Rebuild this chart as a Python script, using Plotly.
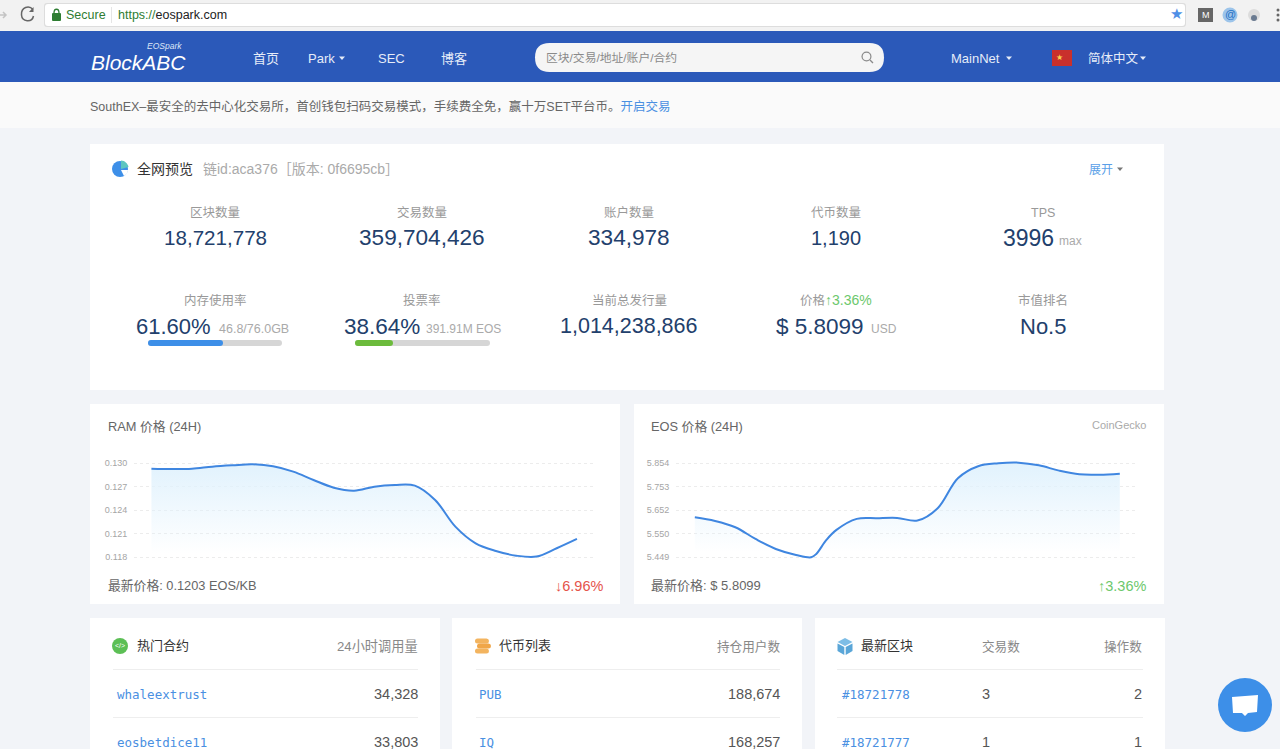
# -*- coding: utf-8 -*-
# eospark dashboard screenshot, two price charts plus the page around them
import plotly.graph_objects as go

W = 1280
H = 753

#chart data
ram_x = [0, 1, 2, 3, 4, 5, 6, 7, 8, 9, 10, 11, 12, 13, 14, 15, 16, 17, 18, 19, 20, 21]
ram_price = [0.12932, 0.12928, 0.12932, 0.12957, 0.12974, 0.12987, 0.12962, 0.12894,
             0.12787, 0.12689, 0.12651, 0.12702, 0.12723, 0.12715, 0.12532, 0.12192,
             0.11979, 0.11881, 0.11821, 0.11809, 0.11915, 0.12034]
ram_ticks = [0.130, 0.127, 0.124, 0.121, 0.118]
ram_ticktext = ["0.130", "0.127", "0.124", "0.121", "0.118"]

eos_x = [0, 1, 2, 3, 4, 5, 5.75, 6, 6.5, 7, 8, 9, 10, 11, 12, 13, 14, 15, 16, 17, 18, 19, 20, 21]
eos_price = [5.6214, 5.6056, 5.5783, 5.5280, 5.4849, 5.4591, 5.4490, 5.4634, 5.5237, 5.5670,
             5.6144, 5.6173, 5.6187, 5.6072, 5.6603, 5.7896, 5.8413, 5.8540, 5.8569,
             5.8454, 5.8224, 5.8066, 5.8052, 5.8095]
eos_ticks = [5.854, 5.753, 5.652, 5.550, 5.449]
eos_ticktext = ["5.854", "5.753", "5.652", "5.550", "5.449"]

#overview numbers: center x, label, value
col_x = [215, 422, 629, 836, 1043]
row1_labels = ["区块数量", "交易数量", "账户数量", "代币数量", "TPS"]
row1_values = ["18,721,778", "359,704,426", "334,978", "1,190", "3996"]
row1_sizes = [20.6, 22.6, 22.6, 20, 23]
row2_labels = ["内存使用率", "投票率", "当前总发行量", "价格", "市值排名"]
row2_values = ["61.60%", "38.64%", "1,014,238,866", "$ 5.8099", "No.5"]

contract_names = ["whaleextrust", "eosbetdice11"]
contract_calls = ["34,328", "33,803"]
token_names = ["PUB", "IQ"]
token_holders = ["188,674", "168,257"]
block_ids = ["#18721778", "#18721777"]
block_tx = ["3", "1"]
block_ops = ["2", "1"]
row_y = [694, 742]

SANS = "Liberation Sans, Noto Sans CJK SC"
MONO = "DejaVu Sans Mono"
NAVY = "#22406c"
LINK = "#4a90e2"
LINE = "#3f86e0"

shapes = []
annotations = []


def fx(x):
    return x / W


def fy(y):
    return 1 - y / H


def rect(x0, y0, x1, y1, color, line=None):
    shapes.append(dict(type="rect", xref="paper", yref="paper", x0=fx(x0), x1=fx(x1),
                       y0=fy(y0), y1=fy(y1), fillcolor=color, layer="below",
                       line=dict(color=line or color, width=1 if line else 0)))


def path(points, color, line=None, width=1):
    # points is a list of (command, x, y, ...) in page pixels
    d = ""
    for p in points:
        d += p[0]
        nums = p[1:]
        d += ",".join(f"{fx(nums[i]):.5f},{fy(nums[i + 1]):.5f}" for i in range(0, len(nums), 2))
        d += " "
    shapes.append(dict(type="path", xref="paper", yref="paper", path=d.strip(), fillcolor=color,
                       layer="below", line=dict(color=line or color, width=width if line else 0)))


def pill(x0, y0, x1, y1, r, color):
    path([("M", x0 + r, y0), ("L", x1 - r, y0), ("Q", x1, y0, x1, y0 + r), ("L", x1, y1 - r),
          ("Q", x1, y1, x1 - r, y1), ("L", x0 + r, y1), ("Q", x0, y1, x0, y1 - r),
          ("L", x0, y0 + r), ("Q", x0, y0, x0 + r, y0), ("Z",)], color)


def circle(cx, cy, r, color):
    shapes.append(dict(type="circle", xref="paper", yref="paper", x0=fx(cx - r), x1=fx(cx + r),
                       y0=fy(cy - r), y1=fy(cy + r), fillcolor=color, layer="below",
                       line=dict(width=0)))


def caret(cx, cy, color, s=3):
    path([("M", cx - s, cy - 1.5), ("L", cx + s, cy - 1.5), ("L", cx, cy + 2), ("Z",)], color)


def txt(x, y, s, size=13, color="#666666", anchor="left", family=SANS):
    # plotly keeps 1px around annotation text
    if anchor == "left":
        x -= 1
    elif anchor == "right":
        x += 1
    annotations.append(dict(xref="paper", yref="paper", x=fx(x), y=fy(y), text=s, showarrow=False,
                            xanchor=anchor, yanchor="middle", borderpad=0,
                            font=dict(size=size, color=color, family=family)))


#page blocks
rect(0, 0, W, 31, "#f2f2f2")
pill(44, 3, 1186, 27, 3, "#dddddd")
pill(45, 4, 1185, 26, 3, "#ffffff")
rect(0, 31, W, 82, "#2b59b9")
rect(0, 82, W, 128, "#fafafa")
rect(0, 128, W, 749, "#f2f4f8")
rect(0, 749, W, H, "#ffffff")
rect(90, 144, 1164, 390, "#ffffff")
rect(90, 404, 620, 604, "#ffffff")
rect(634, 404, 1164, 604, "#ffffff")
rect(90, 618, 440, 749, "#ffffff")
rect(452, 618, 802, 749, "#ffffff")
rect(815, 618, 1165, 749, "#ffffff")

#browser bar
path([("M", 33, 9.5), ("C", 29, 5, 21, 7, 21.5, 15), ("C", 22, 22, 32, 23, 33.5, 16)], "rgba(0,0,0,0)", "#666666", 1.5)
path([("M", 33.5, 7), ("L", 33.5, 12), ("L", 29, 12), ("Z",)], "#666666")
path([("M", 0, 15), ("L", 6, 15), ("M", 3, 12), ("L", 6, 15), ("L", 3, 18)], "rgba(0,0,0,0)", "#c4c4c4", 1.5)
pill(52, 13, 61, 21, 1, "#2e7d32")
path([("M", 54, 13), ("C", 54, 8, 59, 8, 59, 13)], "rgba(0,0,0,0)", "#2e7d32", 1.3)
txt(66, 15.5, "Secure", 12.5, "#2e7d32")
rect(111.5, 7, 112, 23, "#cccccc")
txt(118, 15.5, '<span style="color:#2e7d32">https://</span>eospark.com', 12.5, "#222222")
txt(1176, 14.5, "★", 15, "#4f8fe6", "center", "DejaVu Sans")
rect(1198, 8, 1213, 22, "#666666")
txt(1205.5, 15, "M", 9, "#ffffff", "center")
circle(1230, 15, 7.5, "#9cc4ea")
txt(1230, 14.5, "@", 11, "#1f6fc4", "center")
circle(1254, 15, 6, "#dcdcdc")
circle(1254, 18, 3, "#6a7a90")
for dot_y in [10, 15, 20]:
    circle(1278, dot_y, 1.5, "#666666")

#nav bar
txt(91, 62.5, "<i>BlockABC</i>", 21, "#ffffff")
txt(147, 46.5, "<i>EOSpark</i>", 8.5, "#dfe7f7")
txt(266, 58, "首页", 13, "#e6ecf8", "center")
txt(308, 58, "Park", 13, "#e6ecf8")
caret(342, 58, "#e6ecf8")
txt(391, 58, "SEC", 13, "#e6ecf8", "center")
txt(454, 58, "博客", 13, "#e6ecf8", "center")
pill(535, 43, 884, 72, 14.5, "#f5f5f5")
txt(546, 57.5, "区块/交易/地址/账户/合约", 11.8, "#8a8a8a")
circle(866.5, 56.5, 5, "#8a8a8a")
circle(866.5, 56.5, 3.8, "#f5f5f5")
path([("M", 870, 60), ("L", 873, 63)], "rgba(0,0,0,0)", "#8a8a8a", 1.3)
txt(951, 58, "MainNet", 13, "#e6ecf8")
caret(1009, 58, "#e6ecf8")
rect(1052, 50, 1072, 66, "#c9302c")
txt(1059, 57, "★", 8, "#f6d04d", "center", "DejaVu Sans")
txt(1088, 58, "简体中文", 12.5, "#e6ecf8")
caret(1143, 58, "#e6ecf8")

#notice bar
txt(90, 107, 'SouthEX–最安全的去中心化交易所，首创钱包扫码交易模式，手续费全免，赢十万SET平台币。'
    f'<span style="color:{LINK}">开启交易</span>', 12.5, "#666666")

#overview card
circle(120, 169, 8, "#3d8fe8")
path([("M", 121, 169), ("L", 121, 160.5), ("C", 125, 160.5, 128, 164, 128.5, 167), ("L", 121, 169), ("Z",)], "#5cc6c0")
path([("M", 121, 170), ("L", 128, 170), ("C", 128, 173, 126, 175, 124, 176), ("Z",)], "#ffffff")
txt(137, 169, "全网预览", 14, "#333333")
txt(203, 169, "链id:aca376［版本: 0f6695cb］", 14, "#aaaaaa")
txt(1089, 169.5, "展开", 12, "#5a9fe8")
caret(1120, 169, "#777777")

for i in range(5):
    txt(col_x[i], 213, row1_labels[i], 12.5, "#999999", "center")
    if i < 4:
        txt(col_x[i], 238, row1_values[i], row1_sizes[i], NAVY, "center")
txt(1003, 238, row1_values[4], row1_sizes[4], NAVY)
txt(1059, 241, "max", 12, "#aaaaaa")

for i in [0, 1, 2, 4]:
    txt(col_x[i], 300, row2_labels[i], 12.5, "#999999", "center")
txt(col_x[3], 300, f'{row2_labels[3]}<span style="color:#6cc86c;font-size:14px">↑3.36%</span>', 12.5, "#999999", "center")
txt(136, 326, row2_values[0], 22, NAVY)
txt(219, 329, "46.8/76.0GB", 12.5, "#aaaaaa")
txt(344, 326, row2_values[1], 22.5, NAVY)
txt(426, 329, "391.91M EOS", 12, "#aaaaaa")
txt(col_x[2], 326, row2_values[2], 21.5, NAVY, "center")
txt(776, 326, row2_values[3], 22.5, NAVY)
txt(871, 329, "USD", 12, "#aaaaaa")
txt(col_x[4], 326, row2_values[4], 22, NAVY, "center")
pill(148, 340, 282, 346, 3, "#d6d6d6")
pill(148, 340, 223, 346, 3, "#3d8fe8")
pill(355, 340, 490, 346, 3, "#d6d6d6")
pill(355, 340, 393, 346, 3, "#6cbb3c")

#chart card text
txt(108, 426.5, "RAM 价格 (24H)", 12.8, "#666666")
txt(108, 585, "最新价格: 0.1203 EOS/KB", 12.8, "#666666")
txt(603, 586, "↓6.96%", 14.5, "#e5534b", "right")
txt(651, 426.5, "EOS 价格 (24H)", 12.8, "#666666")
txt(651, 585, "最新价格: $ 5.8099", 13, "#666666")
txt(1146, 425, "CoinGecko", 11, "#aaaaaa", "right")
txt(1146, 586, "↑3.36%", 14.5, "#6cc86c", "right")

#bottom tables
for x0, x1 in [(113, 418), (476, 780), (837, 1143)]:
    rect(x0, 669, x1, 670, "#eeeeee")
    rect(x0, 717, x1, 718, "#eeeeee")

circle(120, 646, 8, "#5cbf55")
txt(120, 645.5, "&lt;/&gt;", 7, "#ffffff", "center")
txt(137, 645, "热门合约", 13, "#333333")
txt(418, 646, "24小时调用量", 13.2, "#888888", "right")
for y, (off, col) in zip([641, 646, 651], [(0, "#f3b45f"), (2, "#f0a648"), (0, "#f3b45f")]):
    pill(475 + off, y - 2.5, 489 + off, y + 2.5, 2.5, col)
txt(499, 645, "代币列表", 13, "#333333")
txt(780, 646, "持仓用户数", 12.6, "#888888", "right")
path([("M", 845, 638), ("L", 852.5, 642), ("L", 845, 646), ("L", 837.5, 642), ("Z",)], "#7dbde6")
path([("M", 837.5, 643.5), ("L", 844.3, 647), ("L", 844.3, 655), ("L", 837.5, 651), ("Z",)], "#5aa6d8")
path([("M", 852.5, 643.5), ("L", 845.7, 647), ("L", 845.7, 655), ("L", 852.5, 651), ("Z",)], "#5aa6d8")
txt(861, 645, "最新区块", 13, "#333333")
txt(1001, 646, "交易数", 12.6, "#888888", "center")
txt(1142, 646, "操作数", 12.6, "#888888", "right")

for i in range(2):
    txt(117, row_y[i], contract_names[i], 12.5, LINK, family=MONO)
    txt(418, row_y[i], contract_calls[i], 14.5, "#555555", "right")
    txt(479, row_y[i], token_names[i], 12.5, LINK, family=MONO)
    txt(780, row_y[i], token_holders[i], 14.5, "#555555", "right")
    txt(842, row_y[i], block_ids[i], 12.5, LINK, family=MONO)
    txt(986, row_y[i], block_tx[i], 14.5, "#555555", "center")
    txt(1142, row_y[i], block_ops[i], 14.5, "#555555", "right")

#chat bubble
circle(1245, 705, 27, "#3d8fe8")
path([("M", 1232, 697), ("L", 1258, 695), ("L", 1257, 712), ("L", 1248, 713), ("L", 1245, 716),
      ("L", 1242, 713), ("L", 1233, 713), ("Z",)], "#ffffff")

fig = go.Figure()
fig.add_trace(go.Scatter(x=ram_x, y=ram_price, mode="lines", xaxis="x", yaxis="y",
                         line=dict(color=LINE, width=2, shape="spline", smoothing=1),
                         fill="tozeroy", showlegend=False,
                         fillgradient=dict(type="vertical", start=0.1185, stop=0.130,
                                           colorscale=[[0, "rgba(225,242,253,0)"], [1, "rgba(225,242,253,1)"]])))
fig.add_trace(go.Scatter(x=eos_x, y=eos_price, mode="lines", xaxis="x2", yaxis="y2",
                         line=dict(color=LINE, width=2, shape="spline", smoothing=1),
                         fill="tozeroy", showlegend=False,
                         fillgradient=dict(type="vertical", start=5.47, stop=5.854,
                                           colorscale=[[0, "rgba(225,242,253,0)"], [1, "rgba(225,242,253,1)"]])))

axis_x = dict(showgrid=False, showticklabels=False, zeroline=False, showline=False, ticks="")
axis_y = dict(showgrid=True, griddash="dot", gridcolor="#ececec", gridwidth=1, zeroline=False,
              showline=False, ticks="outside", ticklen=4, tickcolor="rgba(0,0,0,0)",
              tickfont=dict(size=9, color="#a5a5a5", family=SANS))

# 463.3px and 557.3px are the top and bottom gridlines, plot runs 460..560
fig.update_layout(
    width=W, height=H, margin=dict(l=0, r=0, t=0, b=0, autoexpand=False),
    paper_bgcolor="#ffffff", plot_bgcolor="rgba(0,0,0,0)",
    shapes=shapes, annotations=annotations,
    xaxis=dict(axis_x, domain=[fx(134), fx(596)], range=[-0.86, 21.94]),
    xaxis2=dict(axis_x, domain=[fx(676), fx(1137)], range=[-0.93, 21.85]),
    yaxis=dict(axis_y, domain=[fy(560), fy(460)], anchor="x",
               range=[0.118 - 2.7 * 0.012 / 94, 0.130 + 3.3 * 0.012 / 94],
               tickvals=ram_ticks, ticktext=ram_ticktext),
    yaxis2=dict(axis_y, domain=[fy(560), fy(460)], anchor="x2",
                range=[5.449 - 2.7 * 0.405 / 94, 5.854 + 3.3 * 0.405 / 94],
                tickvals=eos_ticks, ticktext=eos_ticktext),
)

fig.write_html("out.html", config={"displayModeBar": False},
               post_script="document.body.style.margin='0';")
